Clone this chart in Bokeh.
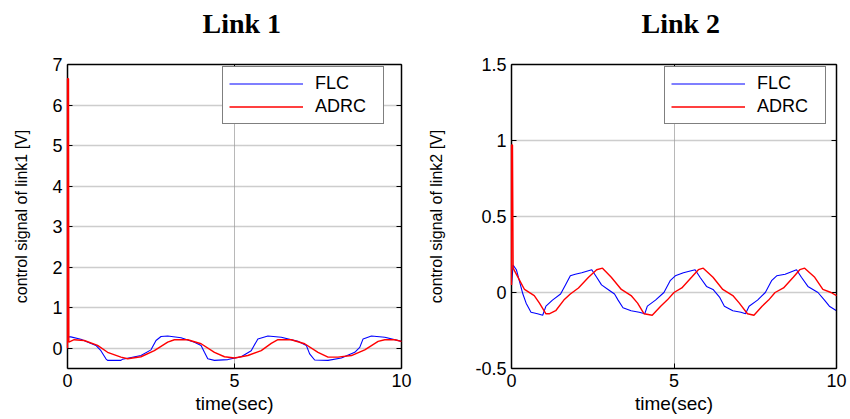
from bokeh.plotting import figure
from bokeh.models import (LinearAxis, FixedTicker, Legend, LegendItem, ColumnDataSource,
                          Range1d, Title)
from bokeh.layouts import row
from bokeh.embed import file_html
from bokeh.resources import INLINE

# ---------------- data ----------------
# Link 1 : FLC (blue)
t_flc_1 = [0.0, 0.0, 0.1, 0.4, 0.85, 1.0, 1.15, 1.2, 1.6, 1.65, 2.2, 2.5, 2.65, 2.8, 3.0, 3.4,
           3.8, 4.0, 4.1, 4.2, 4.4, 4.8, 5.2, 5.5, 5.7, 6.0, 6.4, 6.9, 7.15, 7.25, 7.4, 7.8,
           8.2, 8.6, 8.75, 8.85, 9.1, 9.5, 10.0]
u_flc_1 = [0.0, 0.28, 0.28, 0.22, 0.07, -0.06, -0.26, -0.30, -0.30, -0.27, -0.18, -0.04, 0.19,
           0.29, 0.30, 0.26, 0.15, 0.07, -0.10, -0.26, -0.30, -0.28, -0.21, -0.06, 0.23, 0.30,
           0.27, 0.17, 0.07, -0.14, -0.29, -0.30, -0.24, -0.10, 0.02, 0.23, 0.30, 0.27, 0.17]
# Link 1 : ADRC (red)
t_adrc_1 = [0.0, 0.0, 0.03, 0.04, 0.2, 0.5, 0.9, 1.2, 1.6, 1.8, 2.2, 2.6, 3.0, 3.2, 3.6, 4.0,
            4.4, 4.7, 5.0, 5.4, 5.8, 6.1, 6.3, 6.7, 7.1, 7.5, 7.8, 8.1, 8.5, 8.9, 9.3, 9.5,
            9.8, 10.0]
u_adrc_1 = [0.0, 6.65, 6.65, 0.15, 0.21, 0.19, 0.07, -0.10, -0.22, -0.26, -0.21, -0.06, 0.15,
            0.21, 0.21, 0.11, -0.10, -0.21, -0.24, -0.18, -0.06, 0.12, 0.21, 0.21, 0.11,
            -0.10, -0.22, -0.22, -0.18, -0.04, 0.17, 0.21, 0.21, 0.17]

# Link 2 : FLC (blue)
t_flc_2 = [0.0, 0.05, 0.15, 0.25, 0.35, 0.45, 0.6, 0.8, 0.96, 1.06, 1.26, 1.51, 1.66, 1.81,
           1.96, 2.16, 2.47, 2.62, 2.77, 2.97, 3.17, 3.28, 3.43, 3.68, 3.93, 4.1, 4.18, 4.43,
           4.69, 4.89, 5.04, 5.29, 5.65, 5.8, 6.0, 6.2, 6.4, 6.55, 6.81, 7.06, 7.2, 7.31,
           7.57, 7.81, 8.01, 8.16, 8.42, 8.77, 8.92, 9.12, 9.43, 9.63, 9.78, 10.0]
u_flc_2 = [0.05, 0.18, 0.15, 0.07, -0.01, -0.07, -0.13, -0.14, -0.15, -0.09, -0.05, -0.01,
           0.05, 0.11, 0.12, 0.13, 0.15, 0.10, 0.05, 0.02, -0.01, -0.05, -0.10, -0.12,
           -0.13, -0.14, -0.09, -0.05, 0.00, 0.08, 0.11, 0.13, 0.15, 0.10, 0.04, 0.02, -0.03,
           -0.09, -0.12, -0.13, -0.14, -0.09, -0.05, 0.00, 0.08, 0.11, 0.12, 0.15, 0.10,
           0.04, 0.00, -0.05, -0.09, -0.12]
# Link 2 : ADRC (red)
t_adrc_2 = [0.0, 0.0, 0.03, 0.05, 0.25, 0.4, 0.7, 0.86, 1.06, 1.16, 1.36, 1.61, 1.81, 2.06,
            2.37, 2.62, 2.8, 3.07, 3.38, 3.68, 3.88, 4.08, 4.33, 4.59, 4.79, 5.0, 5.24, 5.54,
            5.75, 5.9, 6.2, 6.5, 6.81, 7.01, 7.26, 7.46, 7.71, 7.91, 8.11, 8.37, 8.67, 8.87,
            9.02, 9.33, 9.58, 9.83, 10.0]
u_adrc_2 = [0.05, 0.97, 0.97, 0.16, 0.08, 0.02, -0.02, -0.07, -0.14, -0.14, -0.12, -0.05, -0.01,
            0.03, 0.10, 0.15, 0.16, 0.10, 0.02, -0.02, -0.07, -0.14, -0.15, -0.09, -0.05,
            0.00, 0.03, 0.10, 0.15, 0.16, 0.10, 0.02, -0.02, -0.07, -0.14, -0.15, -0.09,
            -0.05, 0.00, 0.03, 0.10, 0.15, 0.16, 0.10, 0.02, 0.00, -0.02]

x_ticks = [0, 5, 10]
y_ticks_1 = [0, 1, 2, 3, 4, 5, 6, 7]
y_labels_1 = ["0", "1", "2", "3", "4", "5", "6", "7"]
y_ticks_2 = [-0.5, 0, 0.5, 1, 1.5]
y_labels_2 = ["-0.5", "0", "0.5", "1", "1.5"]
series_names = ["FLC", "ADRC"]
titles = ["Link 1", "Link 2"]
y_titles = ["control signal of link1 [V]", "control signal of link2 [V]"]
x_title = "time(sec)"

SANS = "Liberation Sans"
SERIF = "Liberation Serif"


def make_panel(title, ytitle, tf, uf, ta, ua, yr, yticks, ylabels,
               border_left, border_right, title_offset, ylab_standoff, legend_x):
    p = figure(width=425, height=419, output_backend="svg", toolbar_location=None,
               x_range=Range1d(0, 10), y_range=Range1d(*yr), title=None,
               min_border_left=border_left, min_border_right=border_right,
               min_border_top=64, min_border_bottom=51,
               x_axis_label=x_title, y_axis_label=ytitle)
    p.background_fill_color = "white"
    p.border_fill_color = "white"
    p.outline_line_color = None

    xt = FixedTicker(ticks=x_ticks)
    yt = FixedTicker(ticks=yticks)
    xlab = {v: str(v) for v in x_ticks}
    ylab = {v: l for v, l in zip(yticks, ylabels)}

    for ax in p.xaxis:
        ax.ticker = xt
        ax.major_label_overrides = xlab
    for ax in p.yaxis:
        ax.ticker = yt
        ax.major_label_overrides = ylab
        ax.axis_label_standoff = ylab_standoff

    top = LinearAxis(ticker=xt, major_label_overrides={v: "" for v in x_ticks})
    right = LinearAxis(ticker=yt, major_label_overrides={v: "" for v in yticks})
    p.add_layout(top, "above")
    p.add_layout(right, "right")

    # spacer + title above the frame
    p.add_layout(Title(text=" ", text_font_size="17px", standoff=0), "above")
    p.add_layout(Title(text=title, align="left", offset=title_offset, text_font=SERIF,
                       text_font_style="bold", text_font_size="28px",
                       text_color="black"), "above")

    for ax in p.xaxis + p.yaxis:
        ax.axis_line_color = "black"
        ax.axis_line_width = 1.5
        ax.major_tick_in = 5
        ax.major_tick_out = 0
        ax.major_tick_line_color = "black"
        ax.minor_tick_line_color = None
        ax.major_label_text_font = SANS
        ax.major_label_text_font_size = "18px"
        ax.major_label_text_color = "black"
        ax.axis_label_text_font = SANS
        ax.axis_label_text_font_size = "16px"
        ax.axis_label_text_font_style = "normal"
        ax.axis_label_text_color = "black"
    for ax in p.xaxis:
        ax.axis_label_standoff = 3
        ax.major_label_standoff = 5
        ax.axis_label_text_font_size = "19px"

    p.xgrid.ticker = xt
    p.ygrid.ticker = yt
    p.xgrid.grid_line_color = "#707070"
    p.xgrid.grid_line_dash = "1 1"
    p.xgrid.grid_line_width = 1
    p.ygrid.grid_line_color = "#9a9a9a"
    p.ygrid.grid_line_dash = "1 1"
    p.ygrid.grid_line_width = 1.3

    src_f = ColumnDataSource(dict(t=tf, u=uf))
    src_a = ColumnDataSource(dict(t=ta, u=ua))
    rf = p.line("t", "u", source=src_f, line_color="#0000ff", line_width=1.1)
    ra = p.line("t", "u", source=src_a, line_color="#ff0000", line_width=1.4)
    ra.level = "overlay"

    legend = Legend(items=[LegendItem(label=series_names[0], renderers=[rf]),
                           LegendItem(label=series_names[1], renderers=[ra])],
                    location=(legend_x, 244))
    legend.border_line_color = "black"
    legend.border_line_width = 1.5
    legend.background_fill_color = "white"
    legend.background_fill_alpha = 1
    legend.padding = 6
    legend.spacing = 2
    legend.margin = 0
    legend.glyph_height = 19
    legend.glyph_width = 74
    legend.label_standoff = 12
    legend.label_width = 62
    legend.label_height = 19
    legend.label_text_font = SANS
    legend.label_text_font_size = "18px"
    legend.label_text_color = "black"
    p.add_layout(legend, "center")
    return p


p1 = make_panel(titles[0], y_titles[0], t_flc_1, u_flc_1, t_adrc_1, u_adrc_1,
                (-0.5, 7), y_ticks_1, y_labels_1, 67, 24, 135, 19, 155)
p2 = make_panel(titles[1], y_titles[1], t_flc_2, u_flc_2, t_adrc_2, u_adrc_2,
                (-0.5, 1.5), y_ticks_2, y_labels_2, 80, 14, 130, 27, 153)

layout = row(p1, p2)
open("out.html", "w").write(file_html(layout, INLINE))
